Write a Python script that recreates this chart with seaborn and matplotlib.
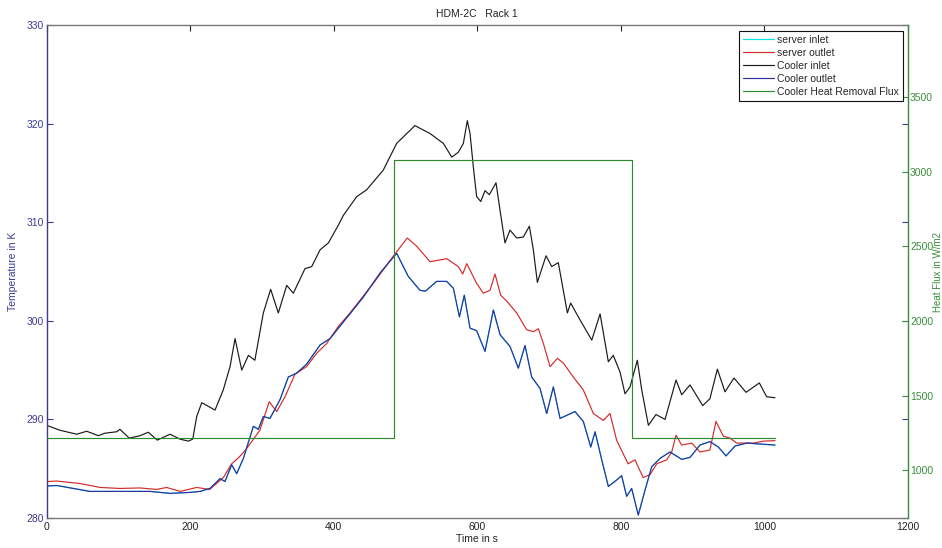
import matplotlib
matplotlib.use("Agg")
import matplotlib.pyplot as plt
import seaborn as sns

# ---- measured temperatures (K) over time (s) ----
inlet_t = [0, 18.5, 41.8, 55.7, 72, 81, 97.5, 102, 115, 130, 141.6, 154, 171.8, 185.7,
           197.3, 203.4, 209, 216, 234.5, 246, 255.4, 262.4, 271.7, 281, 290, 301.8, 312,
           322.7, 334.4, 343.6, 359.9, 369.2, 380.8, 392.4, 406.3, 413.3, 432, 445.9, 469,
           487.6, 513, 534, 552.6, 564.3, 573.5, 580.5, 586, 589.8, 594.4, 599, 604.7,
           610.7, 616.7, 626, 631.6, 638.5, 645.5, 654.8, 664, 672.5, 678, 683.6, 695.7,
           703.6, 712.8, 725.4, 730, 743, 759.4, 771, 782.5, 789.4, 798.8, 805.7, 812.7,
           822.9, 829, 838.3, 848.9, 861.5, 876.8, 884.7, 896.3, 914, 924, 934.4, 945,
           957.6, 974.3, 992.9, 1003, 1014.7]
cooler_inlet = [289.4, 288.9, 288.5, 288.8, 288.35, 288.6, 288.75, 289.0, 288.1, 288.35,
                288.7, 287.9, 288.5, 288.0, 287.8, 288.0, 290.3, 291.7, 290.95, 293.0,
                295.35, 298.2, 295.0, 296.5, 296.0, 300.8, 303.2, 300.8, 303.6, 302.8,
                305.3, 305.5, 307.2, 307.9, 309.7, 310.7, 312.6, 313.3, 315.3, 318.0,
                319.8, 319.0, 318.0, 316.6, 317.1, 318.0, 320.3, 319.0, 315.6, 312.6,
                312.1, 313.2, 312.8, 314.0, 311.2, 307.9, 309.2, 308.4, 308.5, 309.6,
                307.2, 303.9, 306.6, 305.5, 305.9, 300.8, 301.8, 300.1, 298.05, 300.7,
                295.85, 296.5, 294.8, 292.6, 293.3, 296.0, 293.0, 289.4, 290.5, 290.0,
                294.0, 292.5, 293.5, 291.4, 292.1, 295.1, 292.8, 294.2, 292.75, 293.7,
                292.3, 292.2]

outlet_t = [0, 14, 46.4, 74.3, 102, 130, 153, 167, 186, 209, 227, 246, 257.7, 267, 276,
            297, 310, 320.4, 332, 346, 362, 376, 390, 406, 422.6, 455, 485.3, 502.4, 515,
            534, 557.3, 573.5, 579.6, 585.2, 599, 608.3, 617.6, 624.6, 632.5, 640.9, 654.8,
            668.7, 678, 685, 692, 701.3, 711.5, 720, 733.7, 747.6, 761.6, 775.5, 784.8,
            794, 810, 819.6, 831, 840.6, 849.9, 863.8, 870.8, 876.8, 884.7, 898.7, 910.2,
            924, 932.5, 942.7, 952, 961.3, 984.5, 998.5, 1014.7]
server_outlet = [283.7, 283.75, 283.5, 283.1, 283.0, 283.05, 282.9, 283.1, 282.7, 283.1,
                 282.9, 284.1, 285.5, 286.1, 286.8, 288.9, 291.8, 290.8, 292.3, 294.6,
                 295.35, 296.7, 297.7, 299.4, 300.8, 303.8, 306.8, 308.4, 307.6, 306.0,
                 306.3, 305.5, 304.75, 305.8, 303.8, 302.8, 303.1, 304.75, 302.6, 302.0,
                 300.8, 299.1, 298.9, 299.2, 297.7, 295.35, 296.2, 295.7, 294.3, 293.0,
                 290.6, 289.9, 290.6, 287.9, 285.5, 285.9, 284.1, 284.4, 285.5, 285.9,
                 286.7, 288.4, 287.4, 287.6, 286.7, 286.9, 289.8, 288.3, 288.1, 287.6,
                 287.6, 287.8, 287.85]

coolout_t = [0, 14, 37, 60, 106.8, 144, 171.8, 199.7, 213.6, 227.5, 241.5, 248.4, 257.7,
             264.7, 274, 287.9, 294.9, 301.8, 311, 325, 336.6, 348.3, 362, 380.8, 394.7,
             406.3, 440, 465, 487.6, 492, 503.8, 520, 527.3, 543.4, 557.3, 566.6, 575,
             581.8, 589.8, 599, 610.7, 622.3, 631.6, 645.5, 657.1, 666.4, 675.7, 687.3,
             696.6, 705.9, 715.2, 736, 747.6, 758, 764, 773.3, 782.5, 794, 801, 808, 815,
             824.2, 833.5, 842.9, 854.5, 868.4, 884.7, 896.3, 910.2, 924, 935.8, 946.5,
             959, 975.3, 995, 1014.7]
cooler_outlet = [283.25, 283.3, 283.0, 282.7, 282.7, 282.7, 282.5, 282.6, 282.7, 283.0,
                 284.0, 283.7, 285.4, 284.5, 286.05, 289.3, 289.0, 290.3, 290.1, 292.0,
                 294.3, 294.7, 295.6, 297.55, 298.2, 299.25, 302.3, 304.9, 306.85, 306.2,
                 304.5, 303.1, 303.0, 304.0, 304.0, 303.3, 300.4, 302.6, 299.25, 299.0,
                 296.9, 301.1, 298.6, 297.4, 295.2, 297.5, 294.3, 293.15, 290.6, 293.3,
                 290.1, 290.8, 289.8, 287.2, 288.75, 285.9, 283.2, 283.85, 284.3, 282.2,
                 283.0, 280.3, 282.8, 285.2, 286.05, 286.7, 285.95, 286.15, 287.4, 287.75,
                 287.2, 286.3, 287.3, 287.6, 287.5, 287.4]

# server inlet receives the cooler outlet air
server_inlet = list(cooler_outlet)

# ---- cooler heat removal flux (W/m2), piecewise constant ----
flux_t = [0, 484, 815, 1015]
flux = [1217, 3080, 1217, 1217]

x_ticks = [0, 200, 400, 600, 800, 1000, 1200]
temp_ticks = [280, 290, 300, 310, 320, 330]
flux_ticks = [1000, 1500, 2000, 2500, 3000, 3500]

sns.set_style("white")
plt.rcParams["font.family"] = ["Liberation Sans", "DejaVu Sans"]
FS = 7.5
plt.rcParams["font.size"] = FS

BLUE_AX = "#3a3a96"
GREEN_AX = "#3c8c3c"

fig = plt.figure(figsize=(9.42, 5.48), dpi=100)
ax = fig.add_axes([0.0496, 0.0547, 0.9143, 0.8996])
ax2 = ax.twinx()

lw = 0.85
sns.lineplot(x=coolout_t, y=server_inlet, ax=ax, color="#00e5e5", linewidth=lw,
             label="server inlet", legend=False)
sns.lineplot(x=outlet_t, y=server_outlet, ax=ax, color="#d42a2a", linewidth=lw,
             label="server outlet", legend=False)
sns.lineplot(x=inlet_t, y=cooler_inlet, ax=ax, color="#1a1a1a", linewidth=lw,
             label="Cooler inlet", legend=False)
sns.lineplot(x=coolout_t, y=cooler_outlet, ax=ax, color="#2f2fa0", linewidth=lw,
             label="Cooler outlet", legend=False)
sns.lineplot(x=flux_t, y=flux, ax=ax2, color="#2e8b2e", linewidth=lw,
             drawstyle="steps-post", label="Cooler Heat Removal Flux", legend=False)

ax.set_xlim(0, 1200)
ax.set_ylim(280, 330)
ax2.set_ylim(678, 3986)
ax.set_xticks(x_ticks)
ax.set_yticks(temp_ticks)
ax2.set_yticks(flux_ticks)
ax.set_xticklabels([str(v) for v in x_ticks])
ax.set_yticklabels([str(v) for v in temp_ticks])
ax2.set_yticklabels([str(v) for v in flux_ticks])

ax.set_title("HDM-2C   Rack 1", fontsize=FS, color="#222222", pad=6)
ax.set_xlabel("Time in s", fontsize=FS, color="#222222", labelpad=1)
ax.set_ylabel("Temperature in K", fontsize=FS, color=BLUE_AX, labelpad=6)
ax2.set_ylabel("Heat Flux in W/m2", fontsize=7, color=GREEN_AX)
ax2.yaxis.label.set_verticalalignment("center")
ax2.yaxis.set_label_coords(1.0352, 0.5)

ax.tick_params(axis="x", direction="in", top=True, length=4, width=0.8,
               colors="#222222", labelsize=FS, pad=3)
ax.tick_params(axis="y", direction="in", left=True, right=True, length=4, width=0.8,
               color=BLUE_AX, labelcolor=BLUE_AX, labelsize=FS, pad=2)
ax2.tick_params(axis="y", direction="in", right=True, length=4, width=0.8,
                color=GREEN_AX, labelcolor=GREEN_AX, labelsize=FS, pad=1.5)

for side in ("top", "bottom"):
    ax.spines[side].set_color("#777777")
    ax.spines[side].set_linewidth(1.0)
ax.spines["left"].set_color(BLUE_AX)
ax.spines["left"].set_linewidth(1.0)
ax.spines["right"].set_visible(False)
for side in ("left", "top", "bottom"):
    ax2.spines[side].set_visible(False)
ax2.spines["right"].set_color(GREEN_AX)
ax2.spines["right"].set_linewidth(1.0)
ax.grid(False)
ax2.grid(False)

h1, l1 = ax.get_legend_handles_labels()
h2, l2 = ax2.get_legend_handles_labels()
leg = ax2.legend(h1 + h2, l1 + l2, loc="upper right", bbox_to_anchor=(0.994, 0.988),
                 fontsize=FS, frameon=True, fancybox=False, framealpha=1,
                 edgecolor="#111111", handlelength=3.0, handletextpad=0.3,
                 labelspacing=0.3, borderpad=0.35, borderaxespad=0)
leg.get_frame().set_linewidth(0.8)

fig.savefig("out.png", dpi=100)
